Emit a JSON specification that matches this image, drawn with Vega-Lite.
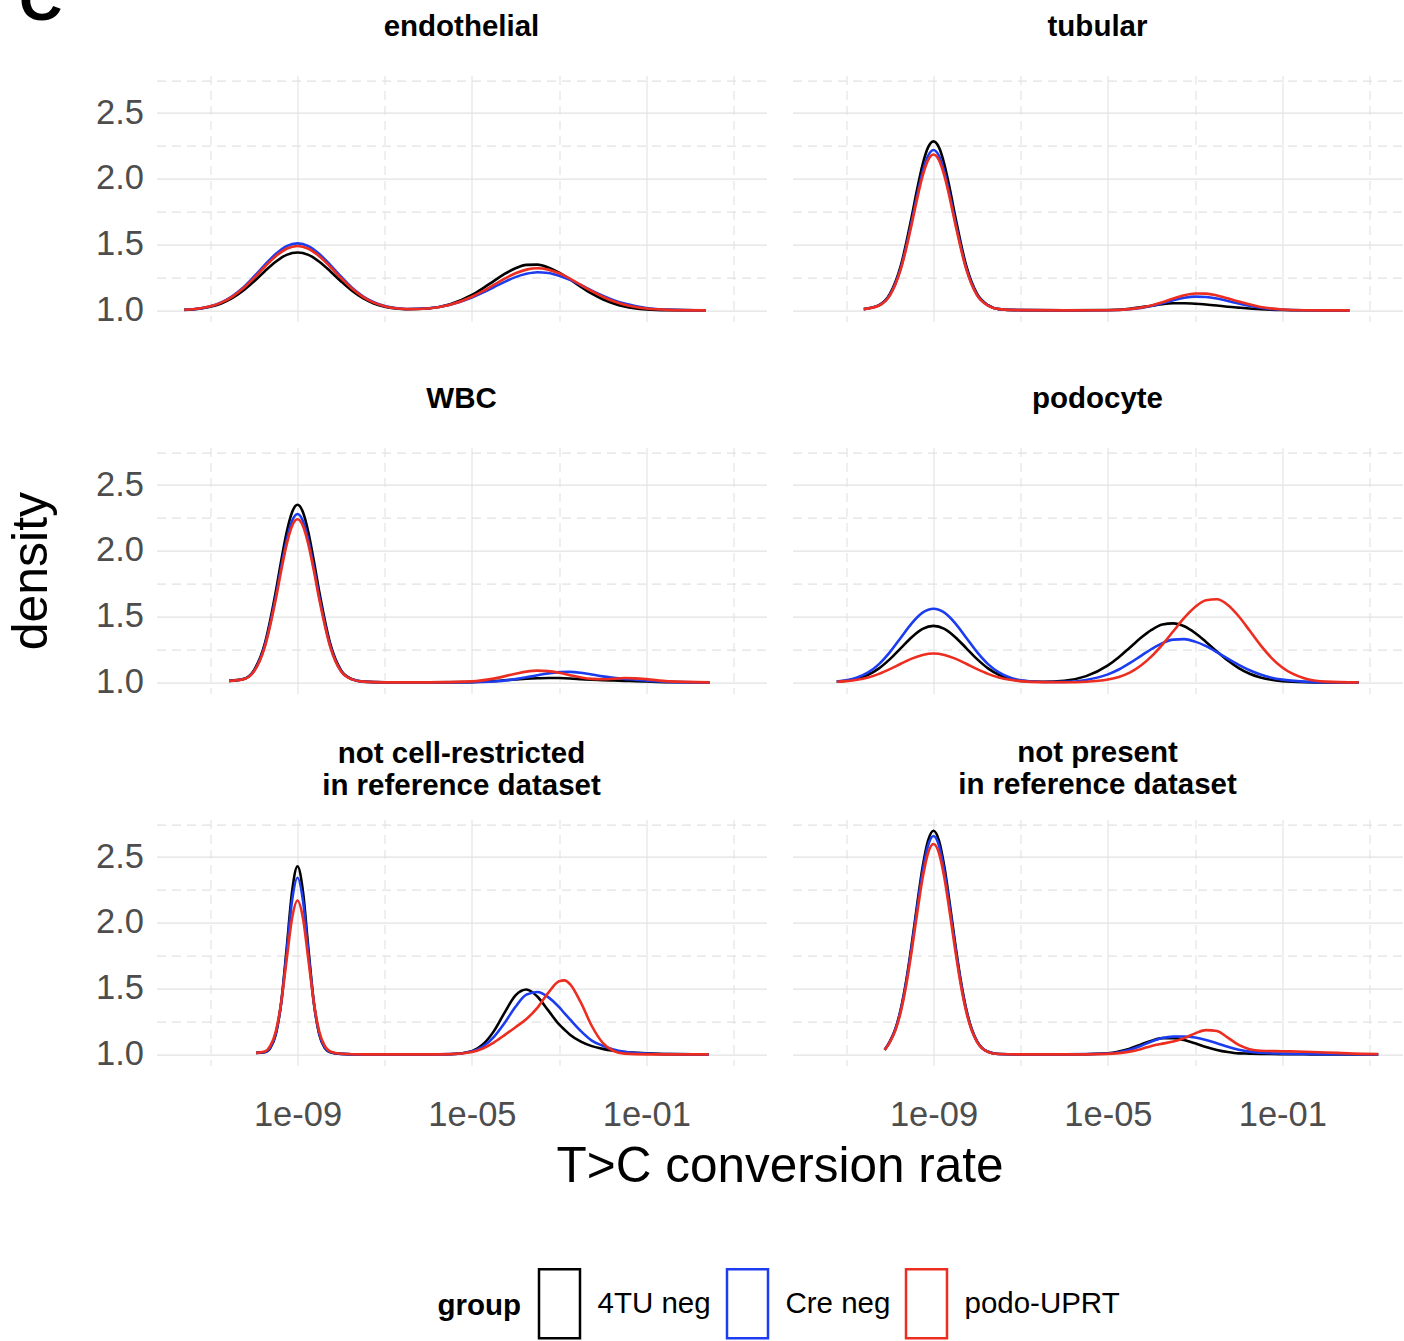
{
"$schema":"https://vega.github.io/schema/vega-lite/v6.json",
"background":"white",
"padding":{"left":5.5,"top":-28.4,"right":0,"bottom":4},
"title":{"text":"C","anchor":"start","fontSize":60,"fontWeight":"bold","offset":-21,"dx":13,"frame":"bounds","color":"black"},
"config":{
"view":{"stroke":null},
"font":"Liberation Sans",
"title":{"font":"Liberation Sans","fontSize":29.5,"fontWeight":"bold","color":"black","anchor":"middle","lineHeight":32},
"axis":{"domain":false,"ticks":false,"gridColor":"#e2e2e2","gridWidth":1.1,"labelFont":"Liberation Sans","labelFontSize":34.5,"labelColor":"#4d4d4d","labelOverlap":false,"labelFlush":false,"labelBound":false,"titleFont":"Liberation Sans","titleFontWeight":"normal","titleColor":"black"},
"axisX":{"labelPadding":33},
"axisY":{"labelPadding":13},
"legend":{"orient":"none","legendX":281,"legendY":1192,"direction":"horizontal","titleOrient":"left","titleAnchor":"middle","titleBaseline":"middle","titlePadding":2,"labelOffset":2,"columnPadding":0,"symbolType":"M-0.594,-1L0.594,-1L0.594,1L-0.594,1Z","symbolSize":4761,"symbolStrokeWidth":2.5,"padding":0,"titleFont":"Liberation Sans","titleFontSize":29.5,"titleFontWeight":"bold","titleColor":"black","labelFont":"Liberation Sans","labelFontSize":29.5,"labelColor":"black"}
},
"resolve":{"scale":{"x":"independent","y":"independent","color":"shared"},"axis":{"x":"independent","y":"independent"},"legend":{"color":"shared"}},
"columns":2,
"spacing":{"row":126,"column":26},
"bounds":"flush",
"data":{"values":[
{"p":"endo","g":"4TU neg","x":2.512e-12,"y":1.004},{"p":"endo","g":"4TU neg","x":5.623e-12,"y":1.013},{"p":"endo","g":"4TU neg","x":1e-11,"y":1.028},{"p":"endo","g":"4TU neg","x":1.778e-11,"y":1.053},{"p":"endo","g":"4TU neg","x":3.162e-11,"y":1.093},{"p":"endo","g":"4TU neg","x":5.623e-11,"y":1.149},{"p":"endo","g":"4TU neg","x":1e-10,"y":1.22},{"p":"endo","g":"4TU neg","x":1.778e-10,"y":1.298},{"p":"endo","g":"4TU neg","x":3.162e-10,"y":1.37},{"p":"endo","g":"4TU neg","x":5.623e-10,"y":1.422},{"p":"endo","g":"4TU neg","x":1e-9,"y":1.44},{"p":"endo","g":"4TU neg","x":1.778e-9,"y":1.422},{"p":"endo","g":"4TU neg","x":3.162e-9,"y":1.37},{"p":"endo","g":"4TU neg","x":5.623e-9,"y":1.298},{"p":"endo","g":"4TU neg","x":1e-8,"y":1.22},{"p":"endo","g":"4TU neg","x":1.778e-8,"y":1.149},{"p":"endo","g":"4TU neg","x":3.162e-8,"y":1.093},{"p":"endo","g":"4TU neg","x":5.623e-8,"y":1.053},{"p":"endo","g":"4TU neg","x":1e-7,"y":1.028},{"p":"endo","g":"4TU neg","x":1.778e-7,"y":1.015},{"p":"endo","g":"4TU neg","x":3.162e-7,"y":1.009},{"p":"endo","g":"4TU neg","x":1e-6,"y":1.015},{"p":"endo","g":"4TU neg","x":3.162e-6,"y":1.047},{"p":"endo","g":"4TU neg","x":1e-5,"y":1.118},{"p":"endo","g":"4TU neg","x":1.778e-5,"y":1.168},{"p":"endo","g":"4TU neg","x":3.162e-5,"y":1.223},{"p":"endo","g":"4TU neg","x":5.623e-5,"y":1.277},{"p":"endo","g":"4TU neg","x":1e-4,"y":1.32},{"p":"endo","g":"4TU neg","x":1.778e-4,"y":1.346},{"p":"endo","g":"4TU neg","x":3.162e-4,"y":1.348},{"p":"endo","g":"4TU neg","x":5.623e-4,"y":1.327},{"p":"endo","g":"4TU neg","x":1e-3,"y":1.287},{"p":"endo","g":"4TU neg","x":1.778e-3,"y":1.235},{"p":"endo","g":"4TU neg","x":3.162e-3,"y":1.179},{"p":"endo","g":"4TU neg","x":5.623e-3,"y":1.127},{"p":"endo","g":"4TU neg","x":0.01,"y":1.085},{"p":"endo","g":"4TU neg","x":0.01778,"y":1.053},{"p":"endo","g":"4TU neg","x":0.03162,"y":1.03},{"p":"endo","g":"4TU neg","x":0.1,"y":1.008},{"p":"endo","g":"4TU neg","x":0.3162,"y":1.002},{"p":"endo","g":"4TU neg","x":2.291,"y":1.0},
{"p":"endo","g":"Cre neg","x":2.512e-12,"y":1.005},{"p":"endo","g":"Cre neg","x":5.623e-12,"y":1.015},{"p":"endo","g":"Cre neg","x":1e-11,"y":1.032},{"p":"endo","g":"Cre neg","x":1.778e-11,"y":1.061},{"p":"endo","g":"Cre neg","x":3.162e-11,"y":1.108},{"p":"endo","g":"Cre neg","x":5.623e-11,"y":1.173},{"p":"endo","g":"Cre neg","x":1e-10,"y":1.256},{"p":"endo","g":"Cre neg","x":1.778e-10,"y":1.346},{"p":"endo","g":"Cre neg","x":3.162e-10,"y":1.429},{"p":"endo","g":"Cre neg","x":5.623e-10,"y":1.489},{"p":"endo","g":"Cre neg","x":1e-9,"y":1.51},{"p":"endo","g":"Cre neg","x":1.778e-9,"y":1.489},{"p":"endo","g":"Cre neg","x":3.162e-9,"y":1.429},{"p":"endo","g":"Cre neg","x":5.623e-9,"y":1.346},{"p":"endo","g":"Cre neg","x":1e-8,"y":1.256},{"p":"endo","g":"Cre neg","x":1.778e-8,"y":1.173},{"p":"endo","g":"Cre neg","x":3.162e-8,"y":1.108},{"p":"endo","g":"Cre neg","x":5.623e-8,"y":1.062},{"p":"endo","g":"Cre neg","x":1e-7,"y":1.033},{"p":"endo","g":"Cre neg","x":1.778e-7,"y":1.018},{"p":"endo","g":"Cre neg","x":3.162e-7,"y":1.011},{"p":"endo","g":"Cre neg","x":1e-6,"y":1.016},{"p":"endo","g":"Cre neg","x":3.162e-6,"y":1.043},{"p":"endo","g":"Cre neg","x":1e-5,"y":1.098},{"p":"endo","g":"Cre neg","x":1.778e-5,"y":1.135},{"p":"endo","g":"Cre neg","x":3.162e-5,"y":1.176},{"p":"endo","g":"Cre neg","x":5.623e-5,"y":1.217},{"p":"endo","g":"Cre neg","x":1e-4,"y":1.253},{"p":"endo","g":"Cre neg","x":1.778e-4,"y":1.278},{"p":"endo","g":"Cre neg","x":3.162e-4,"y":1.29},{"p":"endo","g":"Cre neg","x":5.623e-4,"y":1.285},{"p":"endo","g":"Cre neg","x":1e-3,"y":1.264},{"p":"endo","g":"Cre neg","x":1.778e-3,"y":1.232},{"p":"endo","g":"Cre neg","x":3.162e-3,"y":1.193},{"p":"endo","g":"Cre neg","x":5.623e-3,"y":1.151},{"p":"endo","g":"Cre neg","x":0.01,"y":1.112},{"p":"endo","g":"Cre neg","x":0.01778,"y":1.078},{"p":"endo","g":"Cre neg","x":0.03162,"y":1.052},{"p":"endo","g":"Cre neg","x":0.1,"y":1.019},{"p":"endo","g":"Cre neg","x":0.3162,"y":1.006},{"p":"endo","g":"Cre neg","x":2.291,"y":1.0},
{"p":"endo","g":"podo-UPRT","x":2.512e-12,"y":1.005},{"p":"endo","g":"podo-UPRT","x":5.623e-12,"y":1.015},{"p":"endo","g":"podo-UPRT","x":1e-11,"y":1.031},{"p":"endo","g":"podo-UPRT","x":1.778e-11,"y":1.059},{"p":"endo","g":"podo-UPRT","x":3.162e-11,"y":1.103},{"p":"endo","g":"podo-UPRT","x":5.623e-11,"y":1.166},{"p":"endo","g":"podo-UPRT","x":1e-10,"y":1.245},{"p":"endo","g":"podo-UPRT","x":1.778e-10,"y":1.332},{"p":"endo","g":"podo-UPRT","x":3.162e-10,"y":1.412},{"p":"endo","g":"podo-UPRT","x":5.623e-10,"y":1.469},{"p":"endo","g":"podo-UPRT","x":1e-9,"y":1.49},{"p":"endo","g":"podo-UPRT","x":1.778e-9,"y":1.469},{"p":"endo","g":"podo-UPRT","x":3.162e-9,"y":1.412},{"p":"endo","g":"podo-UPRT","x":5.623e-9,"y":1.332},{"p":"endo","g":"podo-UPRT","x":1e-8,"y":1.245},{"p":"endo","g":"podo-UPRT","x":1.778e-8,"y":1.166},{"p":"endo","g":"podo-UPRT","x":3.162e-8,"y":1.103},{"p":"endo","g":"podo-UPRT","x":5.623e-8,"y":1.059},{"p":"endo","g":"podo-UPRT","x":1e-7,"y":1.032},{"p":"endo","g":"podo-UPRT","x":1.778e-7,"y":1.016},{"p":"endo","g":"podo-UPRT","x":3.162e-7,"y":1.01},{"p":"endo","g":"podo-UPRT","x":1e-6,"y":1.015},{"p":"endo","g":"podo-UPRT","x":3.162e-6,"y":1.043},{"p":"endo","g":"podo-UPRT","x":1e-5,"y":1.104},{"p":"endo","g":"podo-UPRT","x":1.778e-5,"y":1.146},{"p":"endo","g":"podo-UPRT","x":3.162e-5,"y":1.194},{"p":"endo","g":"podo-UPRT","x":5.623e-5,"y":1.242},{"p":"endo","g":"podo-UPRT","x":1e-4,"y":1.282},{"p":"endo","g":"podo-UPRT","x":1.778e-4,"y":1.31},{"p":"endo","g":"podo-UPRT","x":3.162e-4,"y":1.32},{"p":"endo","g":"podo-UPRT","x":5.623e-4,"y":1.31},{"p":"endo","g":"podo-UPRT","x":1e-3,"y":1.282},{"p":"endo","g":"podo-UPRT","x":1.778e-3,"y":1.242},{"p":"endo","g":"podo-UPRT","x":3.162e-3,"y":1.194},{"p":"endo","g":"podo-UPRT","x":5.623e-3,"y":1.146},{"p":"endo","g":"podo-UPRT","x":0.01,"y":1.104},{"p":"endo","g":"podo-UPRT","x":0.01778,"y":1.069},{"p":"endo","g":"podo-UPRT","x":0.03162,"y":1.043},{"p":"endo","g":"podo-UPRT","x":0.1,"y":1.014},{"p":"endo","g":"podo-UPRT","x":0.3162,"y":1.004},{"p":"endo","g":"podo-UPRT","x":2.291,"y":1.0},
{"p":"tub","g":"4TU neg","x":2.512e-11,"y":1.01},{"p":"tub","g":"4TU neg","x":5.623e-11,"y":1.04},{"p":"tub","g":"4TU neg","x":1e-10,"y":1.125},{"p":"tub","g":"4TU neg","x":1.778e-10,"y":1.34},{"p":"tub","g":"4TU neg","x":3.162e-10,"y":1.712},{"p":"tub","g":"4TU neg","x":4.217e-10,"y":1.922},{"p":"tub","g":"4TU neg","x":5.623e-10,"y":2.109},{"p":"tub","g":"4TU neg","x":7.499e-10,"y":2.239},{"p":"tub","g":"4TU neg","x":1e-9,"y":2.285},{"p":"tub","g":"4TU neg","x":1.334e-9,"y":2.239},{"p":"tub","g":"4TU neg","x":1.778e-9,"y":2.109},{"p":"tub","g":"4TU neg","x":2.371e-9,"y":1.922},{"p":"tub","g":"4TU neg","x":3.162e-9,"y":1.712},{"p":"tub","g":"4TU neg","x":5.623e-9,"y":1.34},{"p":"tub","g":"4TU neg","x":1e-8,"y":1.125},{"p":"tub","g":"4TU neg","x":1.778e-8,"y":1.04},{"p":"tub","g":"4TU neg","x":3.162e-8,"y":1.01},{"p":"tub","g":"4TU neg","x":1e-7,"y":1.002},{"p":"tub","g":"4TU neg","x":1e-6,"y":1.0},{"p":"tub","g":"4TU neg","x":1e-5,"y":1.003},{"p":"tub","g":"4TU neg","x":3.162e-5,"y":1.013},{"p":"tub","g":"4TU neg","x":1e-4,"y":1.036},{"p":"tub","g":"4TU neg","x":1.778e-4,"y":1.048},{"p":"tub","g":"4TU neg","x":3.162e-4,"y":1.054},{"p":"tub","g":"4TU neg","x":5.623e-4,"y":1.054},{"p":"tub","g":"4TU neg","x":1e-3,"y":1.051},{"p":"tub","g":"4TU neg","x":1.778e-3,"y":1.045},{"p":"tub","g":"4TU neg","x":3.162e-3,"y":1.037},{"p":"tub","g":"4TU neg","x":5.623e-3,"y":1.028},{"p":"tub","g":"4TU neg","x":0.01,"y":1.021},{"p":"tub","g":"4TU neg","x":0.03162,"y":1.009},{"p":"tub","g":"4TU neg","x":0.1,"y":1.003},{"p":"tub","g":"4TU neg","x":0.3162,"y":1.001},{"p":"tub","g":"4TU neg","x":3.467,"y":1.0},
{"p":"tub","g":"Cre neg","x":2.512e-11,"y":1.01},{"p":"tub","g":"Cre neg","x":5.623e-11,"y":1.038},{"p":"tub","g":"Cre neg","x":1e-10,"y":1.118},{"p":"tub","g":"Cre neg","x":1.778e-10,"y":1.323},{"p":"tub","g":"Cre neg","x":3.162e-10,"y":1.676},{"p":"tub","g":"Cre neg","x":4.217e-10,"y":1.875},{"p":"tub","g":"Cre neg","x":5.623e-10,"y":2.053},{"p":"tub","g":"Cre neg","x":7.499e-10,"y":2.176},{"p":"tub","g":"Cre neg","x":1e-9,"y":2.22},{"p":"tub","g":"Cre neg","x":1.334e-9,"y":2.176},{"p":"tub","g":"Cre neg","x":1.778e-9,"y":2.053},{"p":"tub","g":"Cre neg","x":2.371e-9,"y":1.875},{"p":"tub","g":"Cre neg","x":3.162e-9,"y":1.676},{"p":"tub","g":"Cre neg","x":5.623e-9,"y":1.323},{"p":"tub","g":"Cre neg","x":1e-8,"y":1.118},{"p":"tub","g":"Cre neg","x":1.778e-8,"y":1.038},{"p":"tub","g":"Cre neg","x":3.162e-8,"y":1.01},{"p":"tub","g":"Cre neg","x":1e-7,"y":1.002},{"p":"tub","g":"Cre neg","x":1e-6,"y":1.0},{"p":"tub","g":"Cre neg","x":1e-5,"y":1.001},{"p":"tub","g":"Cre neg","x":3.162e-5,"y":1.009},{"p":"tub","g":"Cre neg","x":1e-4,"y":1.034},{"p":"tub","g":"Cre neg","x":1.778e-4,"y":1.055},{"p":"tub","g":"Cre neg","x":3.162e-4,"y":1.077},{"p":"tub","g":"Cre neg","x":5.623e-4,"y":1.096},{"p":"tub","g":"Cre neg","x":1e-3,"y":1.105},{"p":"tub","g":"Cre neg","x":1.778e-3,"y":1.102},{"p":"tub","g":"Cre neg","x":3.162e-3,"y":1.09},{"p":"tub","g":"Cre neg","x":5.623e-3,"y":1.072},{"p":"tub","g":"Cre neg","x":0.01,"y":1.052},{"p":"tub","g":"Cre neg","x":0.03162,"y":1.02},{"p":"tub","g":"Cre neg","x":0.1,"y":1.005},{"p":"tub","g":"Cre neg","x":0.3162,"y":1.001},{"p":"tub","g":"Cre neg","x":3.467,"y":1.0},
{"p":"tub","g":"podo-UPRT","x":2.512e-11,"y":1.01},{"p":"tub","g":"podo-UPRT","x":5.623e-11,"y":1.037},{"p":"tub","g":"podo-UPRT","x":1e-10,"y":1.114},{"p":"tub","g":"podo-UPRT","x":1.778e-10,"y":1.314},{"p":"tub","g":"podo-UPRT","x":3.162e-10,"y":1.656},{"p":"tub","g":"podo-UPRT","x":4.217e-10,"y":1.85},{"p":"tub","g":"podo-UPRT","x":5.623e-10,"y":2.022},{"p":"tub","g":"podo-UPRT","x":7.499e-10,"y":2.142},{"p":"tub","g":"podo-UPRT","x":1e-9,"y":2.185},{"p":"tub","g":"podo-UPRT","x":1.334e-9,"y":2.142},{"p":"tub","g":"podo-UPRT","x":1.778e-9,"y":2.022},{"p":"tub","g":"podo-UPRT","x":2.371e-9,"y":1.85},{"p":"tub","g":"podo-UPRT","x":3.162e-9,"y":1.656},{"p":"tub","g":"podo-UPRT","x":5.623e-9,"y":1.314},{"p":"tub","g":"podo-UPRT","x":1e-8,"y":1.114},{"p":"tub","g":"podo-UPRT","x":1.778e-8,"y":1.037},{"p":"tub","g":"podo-UPRT","x":3.162e-8,"y":1.01},{"p":"tub","g":"podo-UPRT","x":1e-7,"y":1.002},{"p":"tub","g":"podo-UPRT","x":1e-6,"y":1.0},{"p":"tub","g":"podo-UPRT","x":1e-5,"y":1.001},{"p":"tub","g":"podo-UPRT","x":3.162e-5,"y":1.01},{"p":"tub","g":"podo-UPRT","x":1e-4,"y":1.038},{"p":"tub","g":"podo-UPRT","x":1.778e-4,"y":1.062},{"p":"tub","g":"podo-UPRT","x":3.162e-4,"y":1.09},{"p":"tub","g":"podo-UPRT","x":5.623e-4,"y":1.115},{"p":"tub","g":"podo-UPRT","x":1e-3,"y":1.129},{"p":"tub","g":"podo-UPRT","x":1.778e-3,"y":1.128},{"p":"tub","g":"podo-UPRT","x":3.162e-3,"y":1.114},{"p":"tub","g":"podo-UPRT","x":5.623e-3,"y":1.092},{"p":"tub","g":"podo-UPRT","x":0.01,"y":1.067},{"p":"tub","g":"podo-UPRT","x":0.03162,"y":1.026},{"p":"tub","g":"podo-UPRT","x":0.1,"y":1.007},{"p":"tub","g":"podo-UPRT","x":0.3162,"y":1.001},{"p":"tub","g":"podo-UPRT","x":3.467,"y":1.0},
{"p":"wbc","g":"4TU neg","x":2.692e-11,"y":1.012},{"p":"wbc","g":"4TU neg","x":5.623e-11,"y":1.025},{"p":"wbc","g":"4TU neg","x":1e-10,"y":1.092},{"p":"wbc","g":"4TU neg","x":1.778e-10,"y":1.295},{"p":"wbc","g":"4TU neg","x":3.162e-10,"y":1.687},{"p":"wbc","g":"4TU neg","x":4.217e-10,"y":1.923},{"p":"wbc","g":"4TU neg","x":5.623e-10,"y":2.14},{"p":"wbc","g":"4TU neg","x":7.499e-10,"y":2.294},{"p":"wbc","g":"4TU neg","x":1e-9,"y":2.35},{"p":"wbc","g":"4TU neg","x":1.334e-9,"y":2.294},{"p":"wbc","g":"4TU neg","x":1.778e-9,"y":2.14},{"p":"wbc","g":"4TU neg","x":2.371e-9,"y":1.923},{"p":"wbc","g":"4TU neg","x":3.162e-9,"y":1.687},{"p":"wbc","g":"4TU neg","x":5.623e-9,"y":1.295},{"p":"wbc","g":"4TU neg","x":1e-8,"y":1.092},{"p":"wbc","g":"4TU neg","x":1.778e-8,"y":1.025},{"p":"wbc","g":"4TU neg","x":3.162e-8,"y":1.006},{"p":"wbc","g":"4TU neg","x":1e-7,"y":1.0},{"p":"wbc","g":"4TU neg","x":1e-6,"y":1.0},{"p":"wbc","g":"4TU neg","x":1e-5,"y":1.002},{"p":"wbc","g":"4TU neg","x":3.162e-5,"y":1.01},{"p":"wbc","g":"4TU neg","x":1e-4,"y":1.022},{"p":"wbc","g":"4TU neg","x":1.778e-4,"y":1.028},{"p":"wbc","g":"4TU neg","x":3.162e-4,"y":1.032},{"p":"wbc","g":"4TU neg","x":5.623e-4,"y":1.034},{"p":"wbc","g":"4TU neg","x":1e-3,"y":1.033},{"p":"wbc","g":"4TU neg","x":1.778e-3,"y":1.03},{"p":"wbc","g":"4TU neg","x":3.162e-3,"y":1.025},{"p":"wbc","g":"4TU neg","x":5.623e-3,"y":1.02},{"p":"wbc","g":"4TU neg","x":0.01,"y":1.016},{"p":"wbc","g":"4TU neg","x":0.01778,"y":1.014},{"p":"wbc","g":"4TU neg","x":0.03162,"y":1.012},{"p":"wbc","g":"4TU neg","x":0.05623,"y":1.01},{"p":"wbc","g":"4TU neg","x":0.1,"y":1.007},{"p":"wbc","g":"4TU neg","x":0.3162,"y":1.002},{"p":"wbc","g":"4TU neg","x":2.818,"y":1.0},
{"p":"wbc","g":"Cre neg","x":2.692e-11,"y":1.012},{"p":"wbc","g":"Cre neg","x":5.623e-11,"y":1.024},{"p":"wbc","g":"Cre neg","x":1e-10,"y":1.086},{"p":"wbc","g":"Cre neg","x":1.778e-10,"y":1.28},{"p":"wbc","g":"Cre neg","x":3.162e-10,"y":1.651},{"p":"wbc","g":"Cre neg","x":4.217e-10,"y":1.876},{"p":"wbc","g":"Cre neg","x":5.623e-10,"y":2.081},{"p":"wbc","g":"Cre neg","x":7.499e-10,"y":2.227},{"p":"wbc","g":"Cre neg","x":1e-9,"y":2.28},{"p":"wbc","g":"Cre neg","x":1.334e-9,"y":2.227},{"p":"wbc","g":"Cre neg","x":1.778e-9,"y":2.081},{"p":"wbc","g":"Cre neg","x":2.371e-9,"y":1.876},{"p":"wbc","g":"Cre neg","x":3.162e-9,"y":1.651},{"p":"wbc","g":"Cre neg","x":5.623e-9,"y":1.28},{"p":"wbc","g":"Cre neg","x":1e-8,"y":1.086},{"p":"wbc","g":"Cre neg","x":1.778e-8,"y":1.024},{"p":"wbc","g":"Cre neg","x":3.162e-8,"y":1.006},{"p":"wbc","g":"Cre neg","x":1e-7,"y":1.0},{"p":"wbc","g":"Cre neg","x":1e-6,"y":1.0},{"p":"wbc","g":"Cre neg","x":1e-5,"y":1.001},{"p":"wbc","g":"Cre neg","x":3.162e-5,"y":1.007},{"p":"wbc","g":"Cre neg","x":1e-4,"y":1.025},{"p":"wbc","g":"Cre neg","x":1.778e-4,"y":1.039},{"p":"wbc","g":"Cre neg","x":3.162e-4,"y":1.055},{"p":"wbc","g":"Cre neg","x":5.623e-4,"y":1.069},{"p":"wbc","g":"Cre neg","x":1e-3,"y":1.078},{"p":"wbc","g":"Cre neg","x":1.778e-3,"y":1.08},{"p":"wbc","g":"Cre neg","x":3.162e-3,"y":1.073},{"p":"wbc","g":"Cre neg","x":5.623e-3,"y":1.06},{"p":"wbc","g":"Cre neg","x":0.01,"y":1.046},{"p":"wbc","g":"Cre neg","x":0.01778,"y":1.035},{"p":"wbc","g":"Cre neg","x":0.03162,"y":1.027},{"p":"wbc","g":"Cre neg","x":0.05623,"y":1.021},{"p":"wbc","g":"Cre neg","x":0.1,"y":1.014},{"p":"wbc","g":"Cre neg","x":0.3162,"y":1.004},{"p":"wbc","g":"Cre neg","x":2.818,"y":1.0},
{"p":"wbc","g":"podo-UPRT","x":2.692e-11,"y":1.012},{"p":"wbc","g":"podo-UPRT","x":5.623e-11,"y":1.023},{"p":"wbc","g":"podo-UPRT","x":1e-10,"y":1.083},{"p":"wbc","g":"podo-UPRT","x":1.778e-10,"y":1.271},{"p":"wbc","g":"podo-UPRT","x":3.162e-10,"y":1.631},{"p":"wbc","g":"podo-UPRT","x":4.217e-10,"y":1.848},{"p":"wbc","g":"podo-UPRT","x":5.623e-10,"y":2.047},{"p":"wbc","g":"podo-UPRT","x":7.499e-10,"y":2.189},{"p":"wbc","g":"podo-UPRT","x":1e-9,"y":2.24},{"p":"wbc","g":"podo-UPRT","x":1.334e-9,"y":2.189},{"p":"wbc","g":"podo-UPRT","x":1.778e-9,"y":2.047},{"p":"wbc","g":"podo-UPRT","x":2.371e-9,"y":1.848},{"p":"wbc","g":"podo-UPRT","x":3.162e-9,"y":1.631},{"p":"wbc","g":"podo-UPRT","x":5.623e-9,"y":1.271},{"p":"wbc","g":"podo-UPRT","x":1e-8,"y":1.083},{"p":"wbc","g":"podo-UPRT","x":1.778e-8,"y":1.023},{"p":"wbc","g":"podo-UPRT","x":3.162e-8,"y":1.006},{"p":"wbc","g":"podo-UPRT","x":1e-7,"y":1.0},{"p":"wbc","g":"podo-UPRT","x":1e-6,"y":1.0},{"p":"wbc","g":"podo-UPRT","x":1e-5,"y":1.008},{"p":"wbc","g":"podo-UPRT","x":3.162e-5,"y":1.029},{"p":"wbc","g":"podo-UPRT","x":1e-4,"y":1.066},{"p":"wbc","g":"podo-UPRT","x":1.778e-4,"y":1.082},{"p":"wbc","g":"podo-UPRT","x":3.162e-4,"y":1.09},{"p":"wbc","g":"podo-UPRT","x":5.623e-4,"y":1.086},{"p":"wbc","g":"podo-UPRT","x":1e-3,"y":1.073},{"p":"wbc","g":"podo-UPRT","x":1.778e-3,"y":1.055},{"p":"wbc","g":"podo-UPRT","x":3.162e-3,"y":1.038},{"p":"wbc","g":"podo-UPRT","x":5.623e-3,"y":1.027},{"p":"wbc","g":"podo-UPRT","x":0.01,"y":1.024},{"p":"wbc","g":"podo-UPRT","x":0.01778,"y":1.028},{"p":"wbc","g":"podo-UPRT","x":0.03162,"y":1.033},{"p":"wbc","g":"podo-UPRT","x":0.05623,"y":1.031},{"p":"wbc","g":"podo-UPRT","x":0.1,"y":1.025},{"p":"wbc","g":"podo-UPRT","x":0.3162,"y":1.008},{"p":"wbc","g":"podo-UPRT","x":2.818,"y":1.0},
{"p":"podo","g":"4TU neg","x":6.026e-12,"y":1.005},{"p":"podo","g":"4TU neg","x":1e-11,"y":1.012},{"p":"podo","g":"4TU neg","x":1.778e-11,"y":1.028},{"p":"podo","g":"4TU neg","x":3.162e-11,"y":1.058},{"p":"podo","g":"4TU neg","x":5.623e-11,"y":1.107},{"p":"podo","g":"4TU neg","x":1e-10,"y":1.177},{"p":"podo","g":"4TU neg","x":1.778e-10,"y":1.261},{"p":"podo","g":"4TU neg","x":3.162e-10,"y":1.344},{"p":"podo","g":"4TU neg","x":5.623e-10,"y":1.407},{"p":"podo","g":"4TU neg","x":1e-9,"y":1.43},{"p":"podo","g":"4TU neg","x":1.778e-9,"y":1.407},{"p":"podo","g":"4TU neg","x":3.162e-9,"y":1.344},{"p":"podo","g":"4TU neg","x":5.623e-9,"y":1.261},{"p":"podo","g":"4TU neg","x":1e-8,"y":1.177},{"p":"podo","g":"4TU neg","x":1.778e-8,"y":1.107},{"p":"podo","g":"4TU neg","x":3.162e-8,"y":1.058},{"p":"podo","g":"4TU neg","x":5.623e-8,"y":1.028},{"p":"podo","g":"4TU neg","x":1e-7,"y":1.012},{"p":"podo","g":"4TU neg","x":3.162e-7,"y":1.005},{"p":"podo","g":"4TU neg","x":1e-6,"y":1.013},{"p":"podo","g":"4TU neg","x":3.162e-6,"y":1.048},{"p":"podo","g":"4TU neg","x":1e-5,"y":1.13},{"p":"podo","g":"4TU neg","x":1.778e-5,"y":1.192},{"p":"podo","g":"4TU neg","x":3.162e-5,"y":1.264},{"p":"podo","g":"4TU neg","x":5.623e-5,"y":1.337},{"p":"podo","g":"4TU neg","x":1e-4,"y":1.399},{"p":"podo","g":"4TU neg","x":1.778e-4,"y":1.44},{"p":"podo","g":"4TU neg","x":3.162e-4,"y":1.449},{"p":"podo","g":"4TU neg","x":5.623e-4,"y":1.427},{"p":"podo","g":"4TU neg","x":1e-3,"y":1.376},{"p":"podo","g":"4TU neg","x":1.778e-3,"y":1.308},{"p":"podo","g":"4TU neg","x":3.162e-3,"y":1.235},{"p":"podo","g":"4TU neg","x":5.623e-3,"y":1.166},{"p":"podo","g":"4TU neg","x":0.01,"y":1.109},{"p":"podo","g":"4TU neg","x":0.01778,"y":1.066},{"p":"podo","g":"4TU neg","x":0.03162,"y":1.038},{"p":"podo","g":"4TU neg","x":0.05623,"y":1.02},{"p":"podo","g":"4TU neg","x":0.1,"y":1.01},{"p":"podo","g":"4TU neg","x":0.3162,"y":1.002},{"p":"podo","g":"4TU neg","x":1,"y":1.0},{"p":"podo","g":"4TU neg","x":5.623,"y":1.0},
{"p":"podo","g":"Cre neg","x":6.026e-12,"y":1.007},{"p":"podo","g":"Cre neg","x":1e-11,"y":1.016},{"p":"podo","g":"Cre neg","x":1.778e-11,"y":1.037},{"p":"podo","g":"Cre neg","x":3.162e-11,"y":1.076},{"p":"podo","g":"Cre neg","x":5.623e-11,"y":1.139},{"p":"podo","g":"Cre neg","x":1e-10,"y":1.23},{"p":"podo","g":"Cre neg","x":1.778e-10,"y":1.34},{"p":"podo","g":"Cre neg","x":3.162e-10,"y":1.449},{"p":"podo","g":"Cre neg","x":5.623e-10,"y":1.53},{"p":"podo","g":"Cre neg","x":1e-9,"y":1.56},{"p":"podo","g":"Cre neg","x":1.778e-9,"y":1.53},{"p":"podo","g":"Cre neg","x":3.162e-9,"y":1.449},{"p":"podo","g":"Cre neg","x":5.623e-9,"y":1.34},{"p":"podo","g":"Cre neg","x":1e-8,"y":1.23},{"p":"podo","g":"Cre neg","x":1.778e-8,"y":1.139},{"p":"podo","g":"Cre neg","x":3.162e-8,"y":1.076},{"p":"podo","g":"Cre neg","x":5.623e-8,"y":1.037},{"p":"podo","g":"Cre neg","x":1e-7,"y":1.016},{"p":"podo","g":"Cre neg","x":3.162e-7,"y":1.003},{"p":"podo","g":"Cre neg","x":1e-6,"y":1.004},{"p":"podo","g":"Cre neg","x":3.162e-6,"y":1.019},{"p":"podo","g":"Cre neg","x":1e-5,"y":1.061},{"p":"podo","g":"Cre neg","x":1.778e-5,"y":1.098},{"p":"podo","g":"Cre neg","x":3.162e-5,"y":1.146},{"p":"podo","g":"Cre neg","x":5.623e-5,"y":1.2},{"p":"podo","g":"Cre neg","x":1e-4,"y":1.254},{"p":"podo","g":"Cre neg","x":1.778e-4,"y":1.299},{"p":"podo","g":"Cre neg","x":3.162e-4,"y":1.325},{"p":"podo","g":"Cre neg","x":5.623e-4,"y":1.329},{"p":"podo","g":"Cre neg","x":1e-3,"y":1.31},{"p":"podo","g":"Cre neg","x":1.778e-3,"y":1.276},{"p":"podo","g":"Cre neg","x":3.162e-3,"y":1.23},{"p":"podo","g":"Cre neg","x":5.623e-3,"y":1.18},{"p":"podo","g":"Cre neg","x":0.01,"y":1.133},{"p":"podo","g":"Cre neg","x":0.01778,"y":1.092},{"p":"podo","g":"Cre neg","x":0.03162,"y":1.06},{"p":"podo","g":"Cre neg","x":0.05623,"y":1.036},{"p":"podo","g":"Cre neg","x":0.1,"y":1.021},{"p":"podo","g":"Cre neg","x":0.3162,"y":1.006},{"p":"podo","g":"Cre neg","x":1,"y":1.001},{"p":"podo","g":"Cre neg","x":5.623,"y":1.0},
{"p":"podo","g":"podo-UPRT","x":6.026e-12,"y":1.005},{"p":"podo","g":"podo-UPRT","x":1e-11,"y":1.01},{"p":"podo","g":"podo-UPRT","x":1.778e-11,"y":1.02},{"p":"podo","g":"podo-UPRT","x":3.162e-11,"y":1.038},{"p":"podo","g":"podo-UPRT","x":5.623e-11,"y":1.065},{"p":"podo","g":"podo-UPRT","x":1e-10,"y":1.101},{"p":"podo","g":"podo-UPRT","x":1.778e-10,"y":1.142},{"p":"podo","g":"podo-UPRT","x":3.162e-10,"y":1.181},{"p":"podo","g":"podo-UPRT","x":5.623e-10,"y":1.209},{"p":"podo","g":"podo-UPRT","x":1e-9,"y":1.22},{"p":"podo","g":"podo-UPRT","x":1.778e-9,"y":1.209},{"p":"podo","g":"podo-UPRT","x":3.162e-9,"y":1.181},{"p":"podo","g":"podo-UPRT","x":5.623e-9,"y":1.142},{"p":"podo","g":"podo-UPRT","x":1e-8,"y":1.101},{"p":"podo","g":"podo-UPRT","x":1.778e-8,"y":1.065},{"p":"podo","g":"podo-UPRT","x":3.162e-8,"y":1.038},{"p":"podo","g":"podo-UPRT","x":5.623e-8,"y":1.02},{"p":"podo","g":"podo-UPRT","x":1e-7,"y":1.01},{"p":"podo","g":"podo-UPRT","x":3.162e-7,"y":1.002},{"p":"podo","g":"podo-UPRT","x":1e-6,"y":1.001},{"p":"podo","g":"podo-UPRT","x":3.162e-6,"y":1.005},{"p":"podo","g":"podo-UPRT","x":1e-5,"y":1.022},{"p":"podo","g":"podo-UPRT","x":1.778e-5,"y":1.042},{"p":"podo","g":"podo-UPRT","x":3.162e-5,"y":1.075},{"p":"podo","g":"podo-UPRT","x":5.623e-5,"y":1.127},{"p":"podo","g":"podo-UPRT","x":1e-4,"y":1.198},{"p":"podo","g":"podo-UPRT","x":1.778e-4,"y":1.288},{"p":"podo","g":"podo-UPRT","x":3.162e-4,"y":1.389},{"p":"podo","g":"podo-UPRT","x":5.623e-4,"y":1.49},{"p":"podo","g":"podo-UPRT","x":1e-3,"y":1.573},{"p":"podo","g":"podo-UPRT","x":1.778e-3,"y":1.624},{"p":"podo","g":"podo-UPRT","x":3.162e-3,"y":1.632},{"p":"podo","g":"podo-UPRT","x":5.623e-3,"y":1.589},{"p":"podo","g":"podo-UPRT","x":0.01,"y":1.503},{"p":"podo","g":"podo-UPRT","x":0.01778,"y":1.394},{"p":"podo","g":"podo-UPRT","x":0.03162,"y":1.283},{"p":"podo","g":"podo-UPRT","x":0.05623,"y":1.187},{"p":"podo","g":"podo-UPRT","x":0.1,"y":1.113},{"p":"podo","g":"podo-UPRT","x":0.3162,"y":1.032},{"p":"podo","g":"podo-UPRT","x":1,"y":1.006},{"p":"podo","g":"podo-UPRT","x":5.623,"y":1.0},
{"p":"nres","g":"4TU neg","x":1.122e-10,"y":1.012},{"p":"nres","g":"4TU neg","x":1.778e-10,"y":1.017},{"p":"nres","g":"4TU neg","x":2.371e-10,"y":1.049},{"p":"nres","g":"4TU neg","x":3.162e-10,"y":1.15},{"p":"nres","g":"4TU neg","x":4.217e-10,"y":1.393},{"p":"nres","g":"4TU neg","x":5.623e-10,"y":1.802},{"p":"nres","g":"4TU neg","x":7.499e-10,"y":2.237},{"p":"nres","g":"4TU neg","x":1e-9,"y":2.43},{"p":"nres","g":"4TU neg","x":1.334e-9,"y":2.237},{"p":"nres","g":"4TU neg","x":1.778e-9,"y":1.802},{"p":"nres","g":"4TU neg","x":2.371e-9,"y":1.393},{"p":"nres","g":"4TU neg","x":3.162e-9,"y":1.15},{"p":"nres","g":"4TU neg","x":4.217e-9,"y":1.049},{"p":"nres","g":"4TU neg","x":5.623e-9,"y":1.017},{"p":"nres","g":"4TU neg","x":1e-8,"y":1.004},{"p":"nres","g":"4TU neg","x":3.162e-8,"y":1.0},{"p":"nres","g":"4TU neg","x":1e-6,"y":1.0},{"p":"nres","g":"4TU neg","x":3.162e-6,"y":1.001},{"p":"nres","g":"4TU neg","x":1e-5,"y":1.025},{"p":"nres","g":"4TU neg","x":1.778e-5,"y":1.075},{"p":"nres","g":"4TU neg","x":3.162e-5,"y":1.175},{"p":"nres","g":"4TU neg","x":5.623e-5,"y":1.318},{"p":"nres","g":"4TU neg","x":1e-4,"y":1.449},{"p":"nres","g":"4TU neg","x":1.778e-4,"y":1.494},{"p":"nres","g":"4TU neg","x":3.162e-4,"y":1.44},{"p":"nres","g":"4TU neg","x":5.623e-4,"y":1.335},{"p":"nres","g":"4TU neg","x":1e-3,"y":1.228},{"p":"nres","g":"4TU neg","x":1.334e-3,"y":1.188},{"p":"nres","g":"4TU neg","x":1.778e-3,"y":1.15},{"p":"nres","g":"4TU neg","x":3.162e-3,"y":1.097},{"p":"nres","g":"4TU neg","x":5.623e-3,"y":1.063},{"p":"nres","g":"4TU neg","x":0.01,"y":1.042},{"p":"nres","g":"4TU neg","x":0.01778,"y":1.028},{"p":"nres","g":"4TU neg","x":0.03162,"y":1.018},{"p":"nres","g":"4TU neg","x":0.1,"y":1.008},{"p":"nres","g":"4TU neg","x":0.3162,"y":1.002},{"p":"nres","g":"4TU neg","x":2.692,"y":1.0},
{"p":"nres","g":"Cre neg","x":1.122e-10,"y":1.012},{"p":"nres","g":"Cre neg","x":1.778e-10,"y":1.018},{"p":"nres","g":"Cre neg","x":2.371e-10,"y":1.052},{"p":"nres","g":"Cre neg","x":3.162e-10,"y":1.155},{"p":"nres","g":"Cre neg","x":4.217e-10,"y":1.39},{"p":"nres","g":"Cre neg","x":5.623e-10,"y":1.772},{"p":"nres","g":"Cre neg","x":7.499e-10,"y":2.169},{"p":"nres","g":"Cre neg","x":1e-9,"y":2.343},{"p":"nres","g":"Cre neg","x":1.334e-9,"y":2.169},{"p":"nres","g":"Cre neg","x":1.778e-9,"y":1.772},{"p":"nres","g":"Cre neg","x":2.371e-9,"y":1.39},{"p":"nres","g":"Cre neg","x":3.162e-9,"y":1.155},{"p":"nres","g":"Cre neg","x":4.217e-9,"y":1.052},{"p":"nres","g":"Cre neg","x":5.623e-9,"y":1.018},{"p":"nres","g":"Cre neg","x":1e-8,"y":1.004},{"p":"nres","g":"Cre neg","x":3.162e-8,"y":1.0},{"p":"nres","g":"Cre neg","x":1e-6,"y":1.0},{"p":"nres","g":"Cre neg","x":3.162e-6,"y":1.002},{"p":"nres","g":"Cre neg","x":1e-5,"y":1.023},{"p":"nres","g":"Cre neg","x":1.778e-5,"y":1.06},{"p":"nres","g":"Cre neg","x":3.162e-5,"y":1.132},{"p":"nres","g":"Cre neg","x":5.623e-5,"y":1.239},{"p":"nres","g":"Cre neg","x":1e-4,"y":1.362},{"p":"nres","g":"Cre neg","x":1.778e-4,"y":1.454},{"p":"nres","g":"Cre neg","x":3.162e-4,"y":1.474},{"p":"nres","g":"Cre neg","x":5.623e-4,"y":1.436},{"p":"nres","g":"Cre neg","x":1e-3,"y":1.359},{"p":"nres","g":"Cre neg","x":1.334e-3,"y":1.312},{"p":"nres","g":"Cre neg","x":1.778e-3,"y":1.266},{"p":"nres","g":"Cre neg","x":3.162e-3,"y":1.177},{"p":"nres","g":"Cre neg","x":5.623e-3,"y":1.105},{"p":"nres","g":"Cre neg","x":0.01,"y":1.066},{"p":"nres","g":"Cre neg","x":0.01778,"y":1.037},{"p":"nres","g":"Cre neg","x":0.03162,"y":1.02},{"p":"nres","g":"Cre neg","x":0.1,"y":1.007},{"p":"nres","g":"Cre neg","x":0.3162,"y":1.002},{"p":"nres","g":"Cre neg","x":2.692,"y":1.0},
{"p":"nres","g":"podo-UPRT","x":1.122e-10,"y":1.012},{"p":"nres","g":"podo-UPRT","x":1.778e-10,"y":1.022},{"p":"nres","g":"podo-UPRT","x":2.371e-10,"y":1.064},{"p":"nres","g":"podo-UPRT","x":3.162e-10,"y":1.172},{"p":"nres","g":"podo-UPRT","x":4.217e-10,"y":1.393},{"p":"nres","g":"podo-UPRT","x":5.623e-10,"y":1.718},{"p":"nres","g":"podo-UPRT","x":7.499e-10,"y":2.035},{"p":"nres","g":"podo-UPRT","x":1e-9,"y":2.17},{"p":"nres","g":"podo-UPRT","x":1.334e-9,"y":2.035},{"p":"nres","g":"podo-UPRT","x":1.778e-9,"y":1.718},{"p":"nres","g":"podo-UPRT","x":2.371e-9,"y":1.393},{"p":"nres","g":"podo-UPRT","x":3.162e-9,"y":1.172},{"p":"nres","g":"podo-UPRT","x":4.217e-9,"y":1.064},{"p":"nres","g":"podo-UPRT","x":5.623e-9,"y":1.022},{"p":"nres","g":"podo-UPRT","x":1e-8,"y":1.005},{"p":"nres","g":"podo-UPRT","x":3.162e-8,"y":1.0},{"p":"nres","g":"podo-UPRT","x":1e-6,"y":1.0},{"p":"nres","g":"podo-UPRT","x":3.162e-6,"y":1.002},{"p":"nres","g":"podo-UPRT","x":1e-5,"y":1.019},{"p":"nres","g":"podo-UPRT","x":1.778e-5,"y":1.045},{"p":"nres","g":"podo-UPRT","x":3.162e-5,"y":1.09},{"p":"nres","g":"podo-UPRT","x":5.623e-5,"y":1.147},{"p":"nres","g":"podo-UPRT","x":1e-4,"y":1.207},{"p":"nres","g":"podo-UPRT","x":1.778e-4,"y":1.269},{"p":"nres","g":"podo-UPRT","x":3.162e-4,"y":1.354},{"p":"nres","g":"podo-UPRT","x":5.623e-4,"y":1.468},{"p":"nres","g":"podo-UPRT","x":1e-3,"y":1.556},{"p":"nres","g":"podo-UPRT","x":1.334e-3,"y":1.563},{"p":"nres","g":"podo-UPRT","x":1.778e-3,"y":1.534},{"p":"nres","g":"podo-UPRT","x":3.162e-3,"y":1.393},{"p":"nres","g":"podo-UPRT","x":5.623e-3,"y":1.216},{"p":"nres","g":"podo-UPRT","x":0.01,"y":1.088},{"p":"nres","g":"podo-UPRT","x":0.01778,"y":1.026},{"p":"nres","g":"podo-UPRT","x":0.03162,"y":1.006},{"p":"nres","g":"podo-UPRT","x":0.1,"y":1.0},{"p":"nres","g":"podo-UPRT","x":0.3162,"y":1.0},{"p":"nres","g":"podo-UPRT","x":2.692,"y":1.0},
{"p":"npres","g":"4TU neg","x":7.586e-11,"y":1.035},{"p":"npres","g":"4TU neg","x":1e-10,"y":1.1},{"p":"npres","g":"4TU neg","x":1.334e-10,"y":1.194},{"p":"npres","g":"4TU neg","x":1.778e-10,"y":1.345},{"p":"npres","g":"4TU neg","x":2.371e-10,"y":1.562},{"p":"npres","g":"4TU neg","x":3.162e-10,"y":1.837},{"p":"npres","g":"4TU neg","x":4.217e-10,"y":2.14},{"p":"npres","g":"4TU neg","x":5.623e-10,"y":2.424},{"p":"npres","g":"4TU neg","x":7.499e-10,"y":2.626},{"p":"npres","g":"4TU neg","x":1e-9,"y":2.7},{"p":"npres","g":"4TU neg","x":1.334e-9,"y":2.626},{"p":"npres","g":"4TU neg","x":1.778e-9,"y":2.424},{"p":"npres","g":"4TU neg","x":2.371e-9,"y":2.14},{"p":"npres","g":"4TU neg","x":3.162e-9,"y":1.837},{"p":"npres","g":"4TU neg","x":4.217e-9,"y":1.562},{"p":"npres","g":"4TU neg","x":5.623e-9,"y":1.345},{"p":"npres","g":"4TU neg","x":7.499e-9,"y":1.194},{"p":"npres","g":"4TU neg","x":1e-8,"y":1.1},{"p":"npres","g":"4TU neg","x":1.778e-8,"y":1.02},{"p":"npres","g":"4TU neg","x":3.162e-8,"y":1.003},{"p":"npres","g":"4TU neg","x":1e-7,"y":1.0},{"p":"npres","g":"4TU neg","x":1e-6,"y":1.0},{"p":"npres","g":"4TU neg","x":1e-5,"y":1.009},{"p":"npres","g":"4TU neg","x":1.778e-5,"y":1.022},{"p":"npres","g":"4TU neg","x":3.162e-5,"y":1.044},{"p":"npres","g":"4TU neg","x":5.623e-5,"y":1.074},{"p":"npres","g":"4TU neg","x":1e-4,"y":1.104},{"p":"npres","g":"4TU neg","x":1.778e-4,"y":1.124},{"p":"npres","g":"4TU neg","x":3.162e-4,"y":1.124},{"p":"npres","g":"4TU neg","x":5.623e-4,"y":1.109},{"p":"npres","g":"4TU neg","x":1e-3,"y":1.084},{"p":"npres","g":"4TU neg","x":1.778e-3,"y":1.057},{"p":"npres","g":"4TU neg","x":3.162e-3,"y":1.034},{"p":"npres","g":"4TU neg","x":5.623e-3,"y":1.018},{"p":"npres","g":"4TU neg","x":0.01,"y":1.008},{"p":"npres","g":"4TU neg","x":0.01778,"y":1.006},{"p":"npres","g":"4TU neg","x":0.03162,"y":1.004},{"p":"npres","g":"4TU neg","x":0.1,"y":1.002},{"p":"npres","g":"4TU neg","x":0.3162,"y":1.001},{"p":"npres","g":"4TU neg","x":1,"y":1.0},{"p":"npres","g":"4TU neg","x":3.162,"y":1.0},{"p":"npres","g":"4TU neg","x":15.85,"y":1.0},
{"p":"npres","g":"Cre neg","x":7.586e-11,"y":1.034},{"p":"npres","g":"Cre neg","x":1e-10,"y":1.098},{"p":"npres","g":"Cre neg","x":1.334e-10,"y":1.189},{"p":"npres","g":"Cre neg","x":1.778e-10,"y":1.337},{"p":"npres","g":"Cre neg","x":2.371e-10,"y":1.549},{"p":"npres","g":"Cre neg","x":3.162e-10,"y":1.817},{"p":"npres","g":"Cre neg","x":4.217e-10,"y":2.114},{"p":"npres","g":"Cre neg","x":5.623e-10,"y":2.391},{"p":"npres","g":"Cre neg","x":7.499e-10,"y":2.588},{"p":"npres","g":"Cre neg","x":1e-9,"y":2.66},{"p":"npres","g":"Cre neg","x":1.334e-9,"y":2.588},{"p":"npres","g":"Cre neg","x":1.778e-9,"y":2.391},{"p":"npres","g":"Cre neg","x":2.371e-9,"y":2.114},{"p":"npres","g":"Cre neg","x":3.162e-9,"y":1.817},{"p":"npres","g":"Cre neg","x":4.217e-9,"y":1.549},{"p":"npres","g":"Cre neg","x":5.623e-9,"y":1.337},{"p":"npres","g":"Cre neg","x":7.499e-9,"y":1.189},{"p":"npres","g":"Cre neg","x":1e-8,"y":1.098},{"p":"npres","g":"Cre neg","x":1.778e-8,"y":1.02},{"p":"npres","g":"Cre neg","x":3.162e-8,"y":1.003},{"p":"npres","g":"Cre neg","x":1e-7,"y":1.0},{"p":"npres","g":"Cre neg","x":1e-6,"y":1.0},{"p":"npres","g":"Cre neg","x":1e-5,"y":1.006},{"p":"npres","g":"Cre neg","x":1.778e-5,"y":1.016},{"p":"npres","g":"Cre neg","x":3.162e-5,"y":1.035},{"p":"npres","g":"Cre neg","x":5.623e-5,"y":1.064},{"p":"npres","g":"Cre neg","x":1e-4,"y":1.098},{"p":"npres","g":"Cre neg","x":1.778e-4,"y":1.124},{"p":"npres","g":"Cre neg","x":3.162e-4,"y":1.135},{"p":"npres","g":"Cre neg","x":5.623e-4,"y":1.136},{"p":"npres","g":"Cre neg","x":1e-3,"y":1.128},{"p":"npres","g":"Cre neg","x":1.778e-3,"y":1.11},{"p":"npres","g":"Cre neg","x":3.162e-3,"y":1.085},{"p":"npres","g":"Cre neg","x":5.623e-3,"y":1.058},{"p":"npres","g":"Cre neg","x":0.01,"y":1.036},{"p":"npres","g":"Cre neg","x":0.01778,"y":1.021},{"p":"npres","g":"Cre neg","x":0.03162,"y":1.013},{"p":"npres","g":"Cre neg","x":0.1,"y":1.006},{"p":"npres","g":"Cre neg","x":0.3162,"y":1.003},{"p":"npres","g":"Cre neg","x":1,"y":1.002},{"p":"npres","g":"Cre neg","x":3.162,"y":1.001},{"p":"npres","g":"Cre neg","x":15.85,"y":1.0},
{"p":"npres","g":"podo-UPRT","x":7.586e-11,"y":1.033},{"p":"npres","g":"podo-UPRT","x":1e-10,"y":1.094},{"p":"npres","g":"podo-UPRT","x":1.334e-10,"y":1.183},{"p":"npres","g":"podo-UPRT","x":1.778e-10,"y":1.325},{"p":"npres","g":"podo-UPRT","x":2.371e-10,"y":1.529},{"p":"npres","g":"podo-UPRT","x":3.162e-10,"y":1.788},{"p":"npres","g":"podo-UPRT","x":4.217e-10,"y":2.073},{"p":"npres","g":"podo-UPRT","x":5.623e-10,"y":2.34},{"p":"npres","g":"podo-UPRT","x":7.499e-10,"y":2.531},{"p":"npres","g":"podo-UPRT","x":1e-9,"y":2.6},{"p":"npres","g":"podo-UPRT","x":1.334e-9,"y":2.531},{"p":"npres","g":"podo-UPRT","x":1.778e-9,"y":2.34},{"p":"npres","g":"podo-UPRT","x":2.371e-9,"y":2.073},{"p":"npres","g":"podo-UPRT","x":3.162e-9,"y":1.788},{"p":"npres","g":"podo-UPRT","x":4.217e-9,"y":1.529},{"p":"npres","g":"podo-UPRT","x":5.623e-9,"y":1.325},{"p":"npres","g":"podo-UPRT","x":7.499e-9,"y":1.183},{"p":"npres","g":"podo-UPRT","x":1e-8,"y":1.094},{"p":"npres","g":"podo-UPRT","x":1.778e-8,"y":1.019},{"p":"npres","g":"podo-UPRT","x":3.162e-8,"y":1.003},{"p":"npres","g":"podo-UPRT","x":1e-7,"y":1.0},{"p":"npres","g":"podo-UPRT","x":1e-6,"y":1.0},{"p":"npres","g":"podo-UPRT","x":1e-5,"y":1.004},{"p":"npres","g":"podo-UPRT","x":1.778e-5,"y":1.01},{"p":"npres","g":"podo-UPRT","x":3.162e-5,"y":1.021},{"p":"npres","g":"podo-UPRT","x":5.623e-5,"y":1.04},{"p":"npres","g":"podo-UPRT","x":1e-4,"y":1.064},{"p":"npres","g":"podo-UPRT","x":1.778e-4,"y":1.082},{"p":"npres","g":"podo-UPRT","x":3.162e-4,"y":1.098},{"p":"npres","g":"podo-UPRT","x":5.623e-4,"y":1.124},{"p":"npres","g":"podo-UPRT","x":1e-3,"y":1.16},{"p":"npres","g":"podo-UPRT","x":1.778e-3,"y":1.185},{"p":"npres","g":"podo-UPRT","x":3.162e-3,"y":1.178},{"p":"npres","g":"podo-UPRT","x":5.623e-3,"y":1.128},{"p":"npres","g":"podo-UPRT","x":0.01,"y":1.072},{"p":"npres","g":"podo-UPRT","x":0.01778,"y":1.04},{"p":"npres","g":"podo-UPRT","x":0.03162,"y":1.028},{"p":"npres","g":"podo-UPRT","x":0.1,"y":1.024},{"p":"npres","g":"podo-UPRT","x":0.3162,"y":1.02},{"p":"npres","g":"podo-UPRT","x":1,"y":1.015},{"p":"npres","g":"podo-UPRT","x":3.162,"y":1.008},{"p":"npres","g":"podo-UPRT","x":15.85,"y":1.002}
]},
"concat":[
{"title":{"text":"endothelial","offset":20,"frame":"group"},"width":610,"height":246,
"transform":[{"filter":"datum.p=='endo'"}],
"mark":{"type":"line","interpolate":"monotone","strokeWidth":2.6},
"encoding":{
"x":{"field":"x","type":"quantitative","scale":{"type":"log","domain":[5.83e-13,57.1],"nice":false},"axis":{"values":[1e-11,1e-9,1e-7,1e-5,1e-3,0.1,10],"labels":false,"title":null,"gridDash":{"condition":{"test":"(round(log(datum.value)/LN10)+9)%4!=0","value":[9,6]},"value":[]}}},
"y":{"field":"y","type":"quantitative","scale":{"domain":[0.915,2.785],"nice":false,"zero":false},"axis":{"values":[1,1.25,1.5,1.75,2,2.25,2.5,2.75],"labelExpr":"(datum.value*4)%2==1 ? '' : format(datum.value,'.1f')","title":null,"gridDash":{"condition":{"test":"(datum.value*4)%2==1","value":[9,6]},"value":[]}}},
"color":{"field":"g","type":"nominal","title":"group","scale":{"domain":["4TU neg","Cre neg","podo-UPRT"],"range":["#000000","#1c3cf0","#ec2d20"]}}}},
{"title":{"text":"tubular","offset":33,"frame":"group"},"width":610,"height":246,
"transform":[{"filter":"datum.p=='tub'"}],
"mark":{"type":"line","interpolate":"monotone","strokeWidth":2.6},
"encoding":{
"x":{"field":"x","type":"quantitative","scale":{"type":"log","domain":[5.83e-13,57.1],"nice":false},"axis":{"values":[1e-11,1e-9,1e-7,1e-5,1e-3,0.1,10],"labels":false,"title":null,"gridDash":{"condition":{"test":"(round(log(datum.value)/LN10)+9)%4!=0","value":[9,6]},"value":[]}}},
"y":{"field":"y","type":"quantitative","scale":{"domain":[0.915,2.785],"nice":false,"zero":false},"axis":{"values":[1,1.25,1.5,1.75,2,2.25,2.5,2.75],"labels":false,"title":null,"gridDash":{"condition":{"test":"(datum.value*4)%2==1","value":[9,6]},"value":[]}}},
"color":{"field":"g","type":"nominal","title":"group","scale":{"domain":["4TU neg","Cre neg","podo-UPRT"],"range":["#000000","#1c3cf0","#ec2d20"]}}}},
{"title":{"text":"WBC","offset":20,"frame":"group"},"width":610,"height":246,
"transform":[{"filter":"datum.p=='wbc'"}],
"mark":{"type":"line","interpolate":"monotone","strokeWidth":2.6},
"encoding":{
"x":{"field":"x","type":"quantitative","scale":{"type":"log","domain":[5.83e-13,57.1],"nice":false},"axis":{"values":[1e-11,1e-9,1e-7,1e-5,1e-3,0.1,10],"labels":false,"title":null,"gridDash":{"condition":{"test":"(round(log(datum.value)/LN10)+9)%4!=0","value":[9,6]},"value":[]}}},
"y":{"field":"y","type":"quantitative","scale":{"domain":[0.915,2.785],"nice":false,"zero":false},"axis":{"values":[1,1.25,1.5,1.75,2,2.25,2.5,2.75],"labelExpr":"(datum.value*4)%2==1 ? '' : format(datum.value,'.1f')","title":"density","titleFontSize":50,"titleX":-100.5,"titleY":123,"titleBaseline":"bottom","gridDash":{"condition":{"test":"(datum.value*4)%2==1","value":[9,6]},"value":[]}}},
"color":{"field":"g","type":"nominal","title":"group","scale":{"domain":["4TU neg","Cre neg","podo-UPRT"],"range":["#000000","#1c3cf0","#ec2d20"]}}}},
{"title":{"text":"podocyte","offset":33,"frame":"group"},"width":610,"height":246,
"transform":[{"filter":"datum.p=='podo'"}],
"mark":{"type":"line","interpolate":"monotone","strokeWidth":2.6},
"encoding":{
"x":{"field":"x","type":"quantitative","scale":{"type":"log","domain":[5.83e-13,57.1],"nice":false},"axis":{"values":[1e-11,1e-9,1e-7,1e-5,1e-3,0.1,10],"labels":false,"title":null,"gridDash":{"condition":{"test":"(round(log(datum.value)/LN10)+9)%4!=0","value":[9,6]},"value":[]}}},
"y":{"field":"y","type":"quantitative","scale":{"domain":[0.915,2.785],"nice":false,"zero":false},"axis":{"values":[1,1.25,1.5,1.75,2,2.25,2.5,2.75],"labels":false,"title":null,"gridDash":{"condition":{"test":"(datum.value*4)%2==1","value":[9,6]},"value":[]}}},
"color":{"field":"g","type":"nominal","title":"group","scale":{"domain":["4TU neg","Cre neg","podo-UPRT"],"range":["#000000","#1c3cf0","#ec2d20"]}}}},
{"title":{"text":["not cell-restricted","in reference dataset"],"offset":5,"frame":"group"},"width":610,"height":246,
"transform":[{"filter":"datum.p=='nres'"}],
"mark":{"type":"line","interpolate":"monotone","strokeWidth":2.6},
"encoding":{
"x":{"field":"x","type":"quantitative","scale":{"type":"log","domain":[5.83e-13,57.1],"nice":false},"axis":{"values":[1e-11,1e-9,1e-7,1e-5,1e-3,0.1,10],"labelExpr":"(round(log(datum.value)/LN10)+9)%4==0 ? '1e-0' + (-round(log(datum.value)/LN10)) : ''","title":"T>C conversion rate","titleFontSize":49.5,"titleX":623,"titleY":116,"titleBaseline":"alphabetic","gridDash":{"condition":{"test":"(round(log(datum.value)/LN10)+9)%4!=0","value":[9,6]},"value":[]}}},
"y":{"field":"y","type":"quantitative","scale":{"domain":[0.915,2.785],"nice":false,"zero":false},"axis":{"values":[1,1.25,1.5,1.75,2,2.25,2.5,2.75],"labelExpr":"(datum.value*4)%2==1 ? '' : format(datum.value,'.1f')","title":null,"gridDash":{"condition":{"test":"(datum.value*4)%2==1","value":[9,6]},"value":[]}}},
"color":{"field":"g","type":"nominal","title":"group","scale":{"domain":["4TU neg","Cre neg","podo-UPRT"],"range":["#000000","#1c3cf0","#ec2d20"]}}}},
{"title":{"text":["not present","in reference dataset"],"offset":19,"frame":"group"},"width":610,"height":246,
"transform":[{"filter":"datum.p=='npres'"}],
"mark":{"type":"line","interpolate":"monotone","strokeWidth":2.6},
"encoding":{
"x":{"field":"x","type":"quantitative","scale":{"type":"log","domain":[5.83e-13,57.1],"nice":false},"axis":{"values":[1e-11,1e-9,1e-7,1e-5,1e-3,0.1,10],"labelExpr":"(round(log(datum.value)/LN10)+9)%4==0 ? '1e-0' + (-round(log(datum.value)/LN10)) : ''","title":null,"gridDash":{"condition":{"test":"(round(log(datum.value)/LN10)+9)%4!=0","value":[9,6]},"value":[]}}},
"y":{"field":"y","type":"quantitative","scale":{"domain":[0.915,2.785],"nice":false,"zero":false},"axis":{"values":[1,1.25,1.5,1.75,2,2.25,2.5,2.75],"labels":false,"title":null,"gridDash":{"condition":{"test":"(datum.value*4)%2==1","value":[9,6]},"value":[]}}},
"color":{"field":"g","type":"nominal","title":"group","scale":{"domain":["4TU neg","Cre neg","podo-UPRT"],"range":["#000000","#1c3cf0","#ec2d20"]}}}}
]
}
